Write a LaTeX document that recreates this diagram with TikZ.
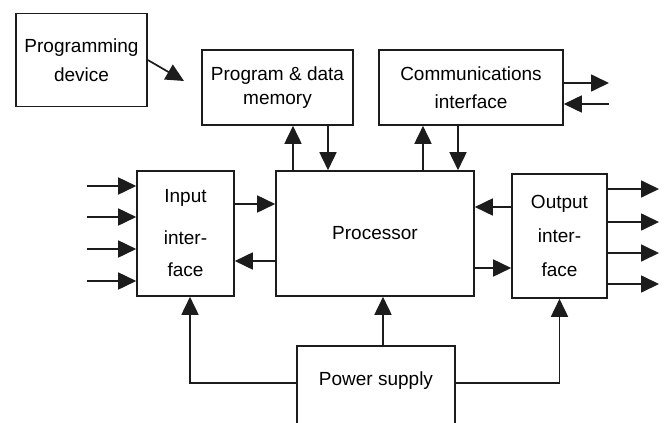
\documentclass[tikz,border=0pt]{standalone}
\usepackage{fontspec}
\setmainfont{Liberation Sans}
\usetikzlibrary{arrows.meta, positioning, calc}
\definecolor{linegray}{RGB}{28,28,28}

\begin{document}
\begin{tikzpicture}[x=1pt, y=-1pt,
  blk/.style={draw=linegray, line width=1.6pt, fill=white, align=center, inner sep=0pt},
  conn/.style={draw=linegray, line width=1.7pt, -{Triangle[length=18pt, width=17pt]}}]
  \useasboundingbox (0,0) rectangle (664,423);
  \clip (0,0) rectangle (664,423);

  % Blocks
  \node[blk, minimum width=131pt, minimum height=93pt, font=\fontsize{19}{29}\selectfont] (prog) at (81.5,60) {Programming\\device};
  \node[blk, minimum width=151pt, minimum height=75pt, font=\fontsize{19}{24}\selectfont] (mem) at (277.5,87.5) {Program \& data\\memory};
  \node[blk, minimum width=184pt, minimum height=75pt, font=\fontsize{19}{28}\selectfont] (comm) at (471,87.5) {Communications\\interface};
  \node[blk, minimum width=198pt, minimum height=125pt, font=\fontsize{19}{24}\selectfont] (proc) at (375,233.5) {Processor};
  \node[blk, minimum width=97pt, minimum height=125pt, font=\fontsize{19}{32}\selectfont] (inp) at (185.5,233.5) {Input\\[10pt]inter-\\face};
  \node[blk, minimum width=95pt, minimum height=124pt, font=\fontsize{19}{34}\selectfont] (out) at (559.5,236) {Output\\inter-\\face};
  \node[blk, minimum width=158pt, text height=40pt, text depth=55pt, anchor=north, font=\fontsize{19}{24}\selectfont] (pwr) at (376,345) {Power supply};

  % Programming device link
  \coordinate (pend) at (184,81);
  \draw[conn] (prog.east) -- (pend);

  % Memory and communications buses
  \draw[conn] (293,0 |- proc.north) -- (293,0 |- mem.south);
  \draw[conn] (328,0 |- mem.south) -- (328,0 |- proc.north);
  \draw[conn] (423,0 |- proc.north) -- (423,0 |- comm.south);
  \draw[conn] (458,0 |- comm.south) -- (458,0 |- proc.north);
  \coordinate (cout) at (609,83);
  \coordinate (cin) at (609,104);
  \draw[conn] (comm.east |- cout) -- (cout);
  \draw[conn] (cin) -- (comm.east |- cin);

  % Input and output lines
  \foreach \i/\y in {1/186, 2/217, 3/249, 4/281}{
    \coordinate (in\i) at (87,\y);
    \draw[conn] (in\i) -- (in\i -| inp.west);
  }
  \foreach \i/\y in {1/189, 2/222, 3/253, 4/284}{
    \coordinate (ot\i) at (659,\y);
    \draw[conn] (ot\i -| out.east) -- (ot\i);
  }

  % Interfaces to processor
  \draw[conn] (inp.east |- 0,204) -- (proc.west |- 0,204);
  \draw[conn] (proc.west |- 0,261) -- (inp.east |- 0,261);
  \draw[conn] (out.west |- 0,207) -- (proc.east |- 0,207);
  \draw[conn] (proc.east |- 0,268) -- (out.west |- 0,268);

  % Power supply feeds
  \draw[conn] (pwr.mid west) -| (190,0 |- inp.south);
  \draw[conn] (pwr.mid east) -| (out.south);
  \draw[conn] (383,0 |- pwr.north) -- (383,0 |- proc.south);
\end{tikzpicture}
\end{document}
